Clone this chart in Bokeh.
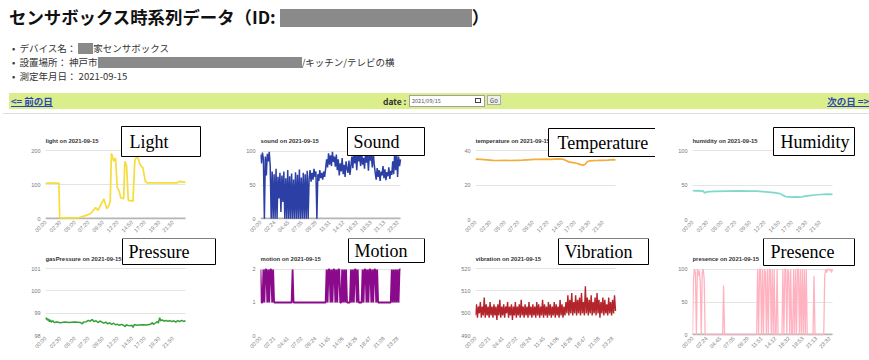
import math
from bokeh.plotting import figure
from bokeh.models import Range1d, FixedTicker, Grid, Label, BoxAnnotation, Div
from bokeh.layouts import column, row
from bokeh.embed import file_html
from bokeh.resources import INLINE

DATE = "2021-09-15"

# ---------------- x tick labels (minutes of day -> label) ----------------
ticks_a_min = [0, 150, 300, 440, 590, 740, 890, 1020, 1170, 1310]
ticks_a_lab = ["00:00", "02:30", "05:00", "07:20", "09:50", "12:20", "14:50", "17:00", "19:30", "21:50"]
ticks_b_min = [0, 144, 285, 425, 569, 711, 852, 992, 1133, 1273, 1412]
ticks_b_lab = ["00:00", "02:24", "04:45", "07:05", "09:29", "11:51", "14:12", "16:32", "18:53", "21:13", "23:32"]
ticks_c_min = [0, 141, 281, 422, 564, 705, 846, 986, 1127, 1268, 1408]
ticks_c_lab = ["00:00", "02:21", "04:41", "07:02", "09:24", "11:45", "14:06", "16:26", "18:47", "21:08", "23:28"]

# ---------------- smooth series: (minute, value) ----------------
light_t = [0, 138, 146, 160, 342, 396, 462, 516, 540, 564, 600, 630, 654, 666, 678, 702, 720, 738, 756, 774,
           804, 816, 834, 852, 900, 918, 942, 972, 1002, 1026, 1044, 1356, 1380, 1422, 1440]
light_v = [105, 105, 4, 3, 3, 8, 15, 33, 25, 39, 59, 30, 39, 54, 193, 169, 179, 92, 83, 62,
           59, 169, 155, 54, 52, 169, 188, 160, 150, 111, 106, 106, 110, 108, 107]

temperature_t = [0, 60, 120, 180, 240, 300, 360, 420, 480, 540, 600, 660, 720, 780, 840, 900, 930, 960, 1000, 1040,
                 1080, 1110, 1130, 1150, 1180, 1240, 1300, 1360, 1420, 1440]
temperature_v = [35.0, 34.8, 34.6, 34.3, 34.2, 34.3, 34.2, 34.3, 34.4, 34.6, 34.8, 34.9, 35.0, 34.8, 35.1, 35.0, 34.2,
                 33.4, 33.0, 32.6, 31.8, 31.5, 32.0, 33.6, 34.0, 34.2, 34.3, 34.4, 34.7, 34.6]

humidity_t = [0, 30, 60, 90, 110, 125, 140, 170, 240, 360, 480, 600, 660, 720, 780, 840, 900, 930, 960, 1020,
              1080, 1110, 1150, 1200, 1260, 1320, 1380, 1440]
humidity_v = [42, 41.5, 41.8, 40.8, 41.5, 38.2, 39.8, 40.3, 40.8, 41.2, 41.5, 41.2, 41.0, 40.4, 39.8, 39.0, 37.5,
              35.0, 33.2, 32.5, 32.8, 32.2, 33.5, 34.6, 35.5, 36.2, 36.8, 36.5]

pressure_t = [0, 10, 20, 30, 40, 50, 60, 75, 90, 120, 150, 200, 240, 300, 360, 380, 390, 420, 440, 460, 480, 500,
              520, 540, 560, 580, 600, 620, 640, 660, 680, 700, 720, 740, 760, 780, 800, 820, 830, 850, 870, 890,
              900, 915, 930, 960, 1000, 1040, 1080, 1100, 1110, 1130, 1150, 1160, 1175, 1185, 1200, 1220, 1240,
              1260, 1280, 1300, 1320, 1340, 1360, 1380, 1400, 1420, 1440]
pressure_v = [98.72, 98.8, 98.68, 98.74, 98.62, 98.7, 98.6, 98.66, 98.58, 98.6, 98.57, 98.6, 98.58, 98.6, 98.58,
              98.52, 98.6, 98.62, 98.68, 98.64, 98.72, 98.62, 98.66, 98.58, 98.65, 98.6, 98.55, 98.6, 98.52, 98.57,
              98.5, 98.55, 98.48, 98.5, 98.45, 98.5, 98.46, 98.4, 98.48, 98.45, 98.44, 98.46, 98.36, 98.5, 98.46,
              98.47, 98.48, 98.47, 98.5, 98.58, 98.5, 98.56, 98.62, 98.55, 98.8, 98.66, 98.7, 98.64, 98.68, 98.63,
              98.67, 98.62, 98.66, 98.6, 98.67, 98.62, 98.68, 98.63, 98.66]

# ---------------- dense series: one reading every 10 minutes ----------------
SAMPLE_MIN = 10
sound_v = [95, 82, 98, 88, 0, 92, 64, 96, 85, 99, 78, 0,
           70, 0, 66, 0, 74, 0, 62, 30, 68, 10, 64, 25,
           70, 0, 60, 0, 72, 0, 63, 0, 67, 0, 58, 0,
           69, 0, 65, 0, 73, 0, 61, 0, 68, 0, 66, 0,
           71, 0, 60, 72, 55, 68, 58, 74, 62, 70, 0, 66,
           56, 72, 60, 68, 58, 70, 62, 74, 88, 76, 97, 80,
           94, 78, 99, 84, 92, 77, 95, 72, 88, 64, 82, 70,
           90, 66, 80, 62, 85, 74, 68, 86, 65, 78, 92, 75,
           99, 82, 96, 72, 98, 85, 94, 78, 100, 80, 90, 74,
           97, 83, 95, 71, 99, 86, 93, 76, 98, 80, 68, 58,
           75, 62, 72, 56, 70, 64, 78, 60, 73, 57, 69, 63,
           76, 59, 71, 65, 85, 66, 98, 72, 95, 62, 92, 78,
           88]

motion_v = [2, 1, 1, 2, 1, 2, 2, 1, 2, 1, 2, 2,
            1, 2, 1, 1, 1, 1, 1, 1, 1, 1, 1, 1,
            1, 1, 1, 1, 1, 1, 1, 1, 1, 2, 1, 1,
            1, 1, 1, 1, 1, 1, 1, 1, 1, 1, 1, 1,
            1, 1, 1, 1, 1, 1, 1, 1, 1, 1, 1, 1,
            1, 1, 1, 1, 1, 1, 1, 1, 2, 1, 2, 2,
            1, 2, 1, 2, 2, 1, 2, 1, 2, 2, 1, 1,
            2, 1, 2, 1, 2, 1, 1, 1, 1, 2, 1, 2,
            1, 2, 2, 1, 2, 1, 1, 1, 1, 2, 1, 2,
            2, 1, 2, 1, 2, 2, 1, 2, 1, 2, 2, 1,
            2, 1, 1, 1, 1, 1, 1, 1, 1, 1, 1, 1,
            1, 1, 1, 2, 1, 2, 1, 2, 1, 2, 1, 2,
            2]

vibration_v = [499, 504, 498, 503, 500, 505, 498, 503, 499, 507, 498, 504,
               499, 503, 498, 505, 499, 503, 498, 504, 499, 503, 497, 504,
               499, 506, 498, 503, 499, 504, 498, 503, 500, 505, 498, 503,
               499, 504, 497, 503, 499, 505, 498, 503, 499, 504, 498, 506,
               499, 503, 498, 504, 499, 503, 498, 505, 499, 503, 498, 504,
               499, 503, 498, 505, 499, 504, 498, 503, 499, 506, 498, 504,
               499, 503, 498, 505, 499, 504, 498, 503, 499, 505, 498, 504,
               499, 503, 498, 506, 499, 504, 498, 503, 499, 505, 500, 508,
               499, 506, 500, 509, 499, 505, 500, 508, 499, 506, 500, 507,
               499, 509, 500, 505, 499, 512, 500, 507, 499, 506, 500, 508,
               499, 505, 500, 507, 499, 509, 500, 506, 498, 505, 500, 507,
               499, 506, 500, 504, 499, 507, 500, 505, 499, 506, 500, 508,
               501]

presence_v = [0, 85, 100, 95, 0, 100, 90, 98, 80, 0, 95, 100,
              85, 0, 0, 0, 0, 0, 0, 0, 0, 0, 0, 0,
              0, 0, 0, 0, 0, 0, 0, 0, 75, 0, 0, 0,
              0, 0, 0, 0, 0, 0, 0, 0, 0, 0, 0, 0,
              0, 0, 0, 0, 0, 0, 0, 0, 0, 0, 0, 0,
              0, 0, 0, 0, 0, 0, 0, 100, 0, 100, 100, 0,
              100, 0, 100, 95, 0, 100, 0, 100, 100, 0, 100, 0,
              100, 0, 0, 100, 0, 0, 0, 0, 0, 100, 0, 100,
              100, 0, 100, 95, 0, 100, 0, 0, 100, 0, 100, 0,
              100, 100, 0, 100, 0, 100, 0, 100, 0, 100, 0, 0,
              0, 0, 0, 0, 0, 90, 0, 0, 0, 0, 0, 0,
              0, 0, 0, 0, 90, 100, 95, 100, 100, 98, 100, 95,
              100]


def sample_times(vals):
    return [i * SAMPLE_MIN for i in range(len(vals))]


# ---------------- layout constants ----------------
DAY_MIN = 1440
PAGE_W = 869
HEADER_H = 114
COL_W = [222, 216, 217, 214]
BORDER_L = [45, 38, 37, 37]
PLOT_W = 140                     # width of the drawn chart area
ROW1 = dict(height=124, bottom=19, plot_h=69)
ROW2 = dict(height=121, bottom=24, plot_h=67)


def make_chart(col, rs, name, xs, ys, color, lw, lo, hi, y_ticks, x_ticks, x_labels, box, dark_base=True):
    w = COL_W[col]
    bl = BORDER_L[col]
    frame_w = w - bl
    frame_h = rs["height"] - rs["bottom"]
    # the frame reaches the top/right canvas edges so the call-outs can sit in it;
    # the chart itself occupies PLOT_W x plot_h at the frame's lower-left corner
    x_end = DAY_MIN * frame_w / PLOT_W
    y_end = lo + (hi - lo) * frame_h / rs["plot_h"]
    p = figure(width=w, height=rs["height"], output_backend="svg", toolbar_location=None, title=None,
               x_range=Range1d(0, x_end), y_range=Range1d(lo, y_end),
               min_border_left=bl, min_border_right=0, min_border_top=0, min_border_bottom=rs["bottom"])
    p.outline_line_color = None
    p.background_fill_color = "white"
    p.border_fill_color = "white"
    p.xgrid.visible = False
    p.yaxis.ticker = FixedTicker(ticks=y_ticks)
    p.ygrid.ticker = FixedTicker(ticks=y_ticks)
    p.ygrid.grid_line_color = "#e4e4e4"
    p.ygrid.grid_line_width = 1
    p.ygrid.cross_bounds = (0, DAY_MIN)
    p.xaxis.ticker = FixedTicker(ticks=x_ticks)
    p.xaxis.major_label_overrides = {t: l for t, l in zip(x_ticks, x_labels)}
    p.xaxis.major_label_orientation = math.pi / 4
    for ax in (p.xaxis[0], p.yaxis[0]):
        ax.axis_line_color = None
        ax.major_tick_line_color = None
        ax.minor_tick_line_color = None
        ax.major_tick_in = 0
        ax.major_tick_out = 0
        ax.minor_tick_in = 0
        ax.minor_tick_out = 0
        ax.major_label_text_font = "Liberation Sans"
        ax.major_label_text_font_size = "5.5px"
        ax.major_label_text_color = "#777777"
    p.yaxis.major_label_standoff = 5
    p.xaxis.major_label_standoff = 2
    if dark_base:
        p.add_layout(Grid(dimension=1, ticker=FixedTicker(ticks=[0]), cross_bounds=(0, DAY_MIN),
                          grid_line_color="#b5b5b5", grid_line_width=2))
    p.line(xs, ys, line_color=color, line_width=lw)

    p.add_layout(Label(x=0, y=rs["plot_h"] + 10, x_units="screen", y_units="screen",
                       text=f"{name} on {DATE}", text_font="Liberation Sans", text_font_style="bold",
                       text_font_size="5.9px", text_color="#333333", text_baseline="middle", text_align="left"))
    p.add_layout(BoxAnnotation(left=box["l"], right=box["r"], bottom=box["b"], top=box["t"],
                               left_units="screen", right_units="screen",
                               bottom_units="screen", top_units="screen",
                               fill_color="white", fill_alpha=1.0, line_color="black",
                               line_alpha=1.0, line_width=1))
    p.add_layout(Label(x=box["tx"], y=(box["b"] + box["t"]) / 2, x_units="screen", y_units="screen",
                       text=box["text"], text_font="Liberation Serif", text_font_size="18px",
                       text_color="black", text_baseline="middle", text_align="left"))
    return p


f1 = make_chart(0, ROW1, "light", light_t, light_v, "#f7dc3a", 1.7, -2, 201, [0, 100, 200],
                ticks_a_min, ticks_a_lab, dict(l=76, r=155, b=63, t=93, tx=84, text="Light"))
f2 = make_chart(1, ROW1, "sound", sample_times(sound_v), sound_v, "#2c3fa5", 1.5, -1, 101, [0, 50, 100],
                ticks_b_min, ticks_b_lab, dict(l=87, r=164, b=64, t=92, tx=93, text="Sound"))
f3 = make_chart(2, ROW1, "temperature", temperature_t, temperature_v, "#f4ad3d", 1.7, 0, 40, [0, 20, 40],
                ticks_a_min, ticks_a_lab, dict(l=73, r=180, b=63, t=91, tx=82, text="Temperature"))
f4 = make_chart(3, ROW1, "humidity", humidity_t, humidity_v, "#80d8cc", 1.7, 0, 100, [0, 50, 100],
                ticks_a_min, ticks_a_lab, dict(l=81, r=162, b=64, t=92, tx=88, text="Humidity"))
f5 = make_chart(0, ROW2, "gasPressure", pressure_t, pressure_v, "#36a036", 1.5, 98, 101, [98, 99, 100, 101],
                ticks_a_min, ticks_a_lab, dict(l=77, r=170, b=71, t=97, tx=83, text="Pressure"),
                dark_base=False)
f6 = make_chart(1, ROW2, "motion", sample_times(motion_v), motion_v, "#8b0a8b", 1.8, 0, 2.03, [0, 1, 2],
                ticks_c_min, ticks_c_lab, dict(l=88, r=164, b=73, t=97, tx=94, text="Motion"))
f7 = make_chart(2, ROW2, "vibration", sample_times(vibration_v), vibration_v, "#b3242b", 1.4, 490, 520,
                [490, 500, 510, 520], ticks_c_min, ticks_c_lab,
                dict(l=83, r=173, b=71, t=97, tx=89, text="Vibration"), dark_base=False)
f8 = make_chart(3, ROW2, "presence", sample_times(presence_v), presence_v, "#ffb3c1", 1.3, -1, 101, [0, 50, 100],
                ticks_b_min, ticks_b_lab, dict(l=71, r=162, b=70, t=97, tx=78, text="Presence"))

FONT = "'Noto Sans CJK JP', 'Noto Sans', sans-serif"
header_html = f"""
<div style="position:relative;width:{PAGE_W}px;height:{HEADER_H}px;font-family:{FONT};color:#222;overflow:hidden;background:white">
  <div style="position:absolute;left:9px;top:6px;font-size:17.4px;font-weight:bold;line-height:22px;white-space:nowrap;color:#111">センサボックス時系列データ（ID: <span style="display:inline-block;width:192px;height:18px;background:#8a8a8a;vertical-align:-3px"></span>）</div>
  <div style="position:absolute;left:12px;top:41px;font-size:9.5px;line-height:14px;white-space:nowrap;color:#333">•&nbsp;&nbsp;デバイス名： <span style="display:inline-block;width:15px;height:11px;background:#8a8a8a;vertical-align:-2px"></span>家センサボックス</div>
  <div style="position:absolute;left:12px;top:55px;font-size:9.5px;line-height:14px;white-space:nowrap;color:#333">•&nbsp;&nbsp;設置場所： 神戸市<span style="display:inline-block;width:204px;height:11px;background:#8a8a8a;vertical-align:-2px"></span>/キッチン/テレビの横</div>
  <div style="position:absolute;left:12px;top:69px;font-size:9.5px;line-height:14px;white-space:nowrap;color:#333">•&nbsp;&nbsp;測定年月日： 2021-09-15</div>
  <div style="position:absolute;left:9px;top:93px;width:860px;height:16px;background:#daee8c;overflow:hidden">
    <span style="position:absolute;left:2px;top:0px;line-height:16px;font-size:9.5px;font-weight:bold;color:#2a47b5;text-decoration:underline;white-space:nowrap">&lt;= 前の日</span>
    <span style="position:absolute;left:374px;top:0px;line-height:16px;font-size:8.5px;font-weight:bold;color:#333;white-space:nowrap">date :</span>
    <span style="position:absolute;left:400px;top:2px;width:72px;height:10px;background:white;border:1px solid #a0a0a0;font-size:5.5px;line-height:10px;color:#555;padding-left:2px;box-sizing:content-box;white-space:nowrap">2021/09/15<span style="position:absolute;right:3px;top:2px;width:6px;height:5px;border:1px solid #444;box-sizing:border-box"></span></span>
    <span style="position:absolute;left:478px;top:2px;width:14px;height:10px;background:#f0f0f0;border:1px solid #aaa;font-size:6px;line-height:10px;color:#444;text-align:center">Go</span>
    <span style="position:absolute;right:0px;top:0px;line-height:16px;font-size:9.5px;font-weight:bold;color:#2a47b5;text-decoration:underline;white-space:nowrap">次の日 =&gt;</span>
  </div>
  <div style="position:absolute;left:3px;top:113px;width:866px;height:1px;background:#dddddd"></div>
</div>
"""
header = Div(text=header_html, width=PAGE_W, height=HEADER_H, margin=0)

layout = column(header, row(f1, f2, f3, f4), row(f5, f6, f7, f8))

open("out.html", "w").write(file_html(layout, INLINE))
